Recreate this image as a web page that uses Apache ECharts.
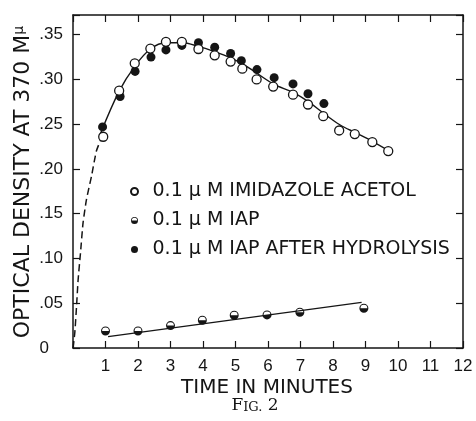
<!DOCTYPE html>
<html>
<head>
<meta charset="utf-8">
<script src="https://cdn.jsdelivr.net/npm/echarts@6/dist/echarts.min.js"></script>
<style>
  html, body { margin: 0; padding: 0; background: #fff; }
  #chart { width: 476px; height: 421px; }
</style>
</head>
<body>
<div id="chart"></div>
<script>
// ---- data ----
const acetolX = [0.93, 1.42, 1.90, 2.38, 2.86, 3.35, 3.86, 4.36, 4.85, 5.21, 5.65, 6.16, 6.77, 7.23, 7.70, 8.19, 8.67, 9.21, 9.70];
const acetolY = [0.236, 0.2875, 0.318, 0.3345, 0.342, 0.342, 0.334, 0.327, 0.320, 0.312, 0.300, 0.292, 0.283, 0.272, 0.259, 0.243, 0.239, 0.230, 0.220];

const hydrolX = [0.91, 1.45, 1.91, 2.40, 2.86, 3.35, 3.86, 4.36, 4.85, 5.18, 5.66, 6.19, 6.77, 7.23, 7.72];
const hydrolY = [0.247, 0.281, 0.309, 0.325, 0.333, 0.338, 0.341, 0.336, 0.329, 0.321, 0.311, 0.302, 0.295, 0.284, 0.273];

const iapX = [1.0, 2.0, 3.0, 3.98, 4.96, 5.97, 6.98, 8.95];
const iapY = [0.019, 0.019, 0.025, 0.031, 0.0366, 0.037, 0.040, 0.0444];

// drawn curves
const fitCurveX = [0.85, 1.42, 1.90, 2.38, 2.86, 3.35, 3.86, 4.36, 4.85, 5.34, 6.16, 6.77, 7.23, 7.70, 8.21, 8.72, 9.21, 9.80];
const fitCurveY = [0.240, 0.287, 0.3147, 0.334, 0.341, 0.341, 0.337, 0.331, 0.324, 0.3147, 0.295, 0.2856, 0.2755, 0.2625, 0.2494, 0.240, 0.2308, 0.2185];

const dashCurveX = [0, 0.055, 0.108, 0.157, 0.23, 0.31, 0.415, 0.57, 0.72, 0.88];
const dashCurveY = [0, 0.017, 0.046, 0.076, 0.106, 0.14, 0.166, 0.192, 0.22, 0.235];

const iapLineX = [1.08, 8.88];
const iapLineY = [0.0127, 0.051];

const xTickLabels = ['', '1', '2', '3', '4', '5', '6', '7', '8', '9', '10', '11', '12'];
const yTickValues = [0, 0.05, 0.10, 0.15, 0.20, 0.25, 0.30, 0.35];
const yTickLabels = ['0', '.05', '.10', '.15', '.20', '.25', '.30', '.35'];

const seriesNames = ['0.1 \u03bc M IMIDAZOLE ACETOL', '0.1 \u03bc M IAP', '0.1 \u03bc M IAP AFTER HYDROLYSIS'];
const xTitle = 'TIME IN MINUTES';
const yTitle = 'OPTICAL DENSITY AT 370 M';
const figLabel = ['F', 'IG.', ' 2'];
// ---------------------------------------------

const zip = (xs, ys) => xs.map((x, i) => [x, ys[i]]);
const INK = '#151515';
const SANS = "'DejaVu Sans', 'Liberation Sans', sans-serif";
const TICKFONT = "'Liberation Sans Narrow', 'Liberation Sans', sans-serif";

// half-filled circle: outer disc with the upper half hollowed out
const halfPath = 'path://M-10 0A10 10 0 1 0 10 0A10 10 0 1 0 -10 0Z M-7.6 0A7.6 7.6 0 0 1 7.6 0Z';

const chart = echarts.init(document.getElementById('chart'), null, { renderer: 'canvas' });

const axisLine = { show: true, onZero: false, lineStyle: { color: INK, width: 1.5 } };
const tickStyle = { color: INK, width: 1.2 };

chart.setOption({
  animation: false,
  backgroundColor: '#fff',
  grid: { left: 73, right: 13, top: 15, bottom: 73, show: false },
  xAxis: [
    {
      type: 'value', min: 0, max: 12, interval: 1, position: 'bottom',
      axisLine: axisLine,
      axisTick: { show: true, inside: true, length: 7, lineStyle: tickStyle },
      splitLine: { show: false },
      axisLabel: {
        margin: 10, color: INK, fontSize: 17, fontFamily: TICKFONT,
        formatter: v => xTickLabels[Math.round(v)] || ''
      }
    },
    {
      type: 'value', min: 0, max: 12, interval: 1, position: 'top',
      axisLine: axisLine,
      axisTick: { show: true, inside: true, length: 7, lineStyle: tickStyle },
      splitLine: { show: false },
      axisLabel: { show: false }
    }
  ],
  yAxis: [
    {
      type: 'value', min: 0, max: 0.372, interval: 0.05, position: 'left',
      axisLine: axisLine,
      axisTick: { show: true, inside: true, length: 7, lineStyle: tickStyle },
      splitLine: { show: false },
      axisLabel: {
        margin: 10, color: INK, fontSize: 17, fontFamily: TICKFONT,
        formatter: v => {
          const i = yTickValues.findIndex(t => Math.abs(t - v) < 1e-6);
          if (i < 0) return '';
          return i === 0 ? '{z|' + yTickLabels[i] + '}' : yTickLabels[i];
        },
        rich: { z: { fontSize: 17, fontFamily: TICKFONT, color: INK, padding: [0, 14, 0, 0] } }
      }
    },
    {
      type: 'value', min: 0, max: 0.372, interval: 0.05, position: 'right',
      axisLine: axisLine,
      axisTick: { show: true, inside: true, length: 7, lineStyle: tickStyle },
      splitLine: { show: false },
      axisLabel: { show: false }
    }
  ],
  legend: {
    data: seriesNames,
    orient: 'vertical',
    left: 125, top: 176,
    itemWidth: 26, itemHeight: 7, itemGap: 8,
    selectedMode: false,
    textStyle: { color: INK, fontSize: 19, fontFamily: SANS, lineHeight: 21 }
  },
  series: [
    {
      name: 'fit', type: 'line', data: zip(fitCurveX, fitCurveY), smooth: 0.35,
      symbol: 'none', lineStyle: { color: INK, width: 1.4 }, z: 2, silent: true
    },
    {
      name: 'extrapolation', type: 'line', data: zip(dashCurveX, dashCurveY), smooth: 0.2,
      symbol: 'none', lineStyle: { color: INK, width: 1.5, type: [7, 4] }, z: 2, silent: true
    },
    {
      name: 'iapfit', type: 'line', data: zip(iapLineX, iapLineY),
      symbol: 'none', lineStyle: { color: INK, width: 1.4 }, z: 2, silent: true
    },
    {
      name: seriesNames[0], type: 'scatter', data: zip(acetolX, acetolY),
      symbol: 'circle', symbolSize: 9,
      itemStyle: { color: '#fff', borderColor: INK, borderWidth: 1.3, opacity: 1 }, z: 4
    },
    {
      name: seriesNames[1], type: 'scatter', data: zip(iapX, iapY),
      symbol: halfPath, symbolSize: 9,
      itemStyle: { color: INK, opacity: 1 }, z: 4
    },
    {
      name: seriesNames[2], type: 'scatter', data: zip(hydrolX, hydrolY),
      symbol: 'circle', symbolSize: 9,
      itemStyle: { color: INK, opacity: 1 }, z: 3
    }
  ],
  graphic: [
    {
      type: 'text', x: 23, y: 182, rotation: Math.PI / 2,
      style: {
        text: yTitle + '{mu|\u03bc}', fill: INK, font: "22px " + SANS,
        align: 'center', verticalAlign: 'middle',
        rich: { mu: { fontSize: 14, fontFamily: SANS, fill: INK, verticalAlign: 'top', padding: [0, 0, 8, 0] } }
      }
    },
    {
      type: 'text', x: 267, y: 388,
      style: { text: xTitle, fill: INK, font: "20px " + SANS, align: 'center', verticalAlign: 'middle' }
    },
    {
      type: 'text', x: 255, y: 406,
      style: {
        text: '{a|' + figLabel[0] + '}{b|' + figLabel[1] + '}{a|' + figLabel[2] + '}',
        align: 'center', verticalAlign: 'middle',
        rich: {
          a: { fontSize: 17, fontFamily: "'DejaVu Serif', serif", fill: INK, verticalAlign: 'bottom' },
          b: { fontSize: 13, fontFamily: "'DejaVu Serif', serif", fill: INK, verticalAlign: 'bottom' }
        }
      }
    }
  ]
});
</script>
</body>
</html>
